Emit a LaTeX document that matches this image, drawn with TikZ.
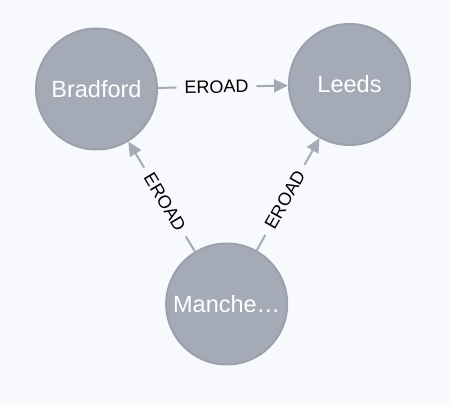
\documentclass[tikz,border=0pt]{standalone}
\usepackage{fontspec}
\setmainfont{Liberation Sans}
\usepackage{xcolor}
\usepackage{tikz}
\usetikzlibrary{arrows.meta}
\definecolor{nodegray}{HTML}{A5ABB6}
\definecolor{rimgray}{HTML}{9AA1AC}
\definecolor{canvas}{HTML}{F8F9FC}

\begin{document}
\begin{tikzpicture}[
  x=1pt,y=1pt,
  city/.style={circle,fill=nodegray,draw=rimgray,line width=2pt,minimum size=121pt,inner sep=0pt,
    text=white,font=\fontsize{23.5}{28}\selectfont},
  road/.style={draw=nodegray,line width=2pt,-{Triangle[length=14pt,width=13pt]}},
  rlabel/.style={sloped,fill=canvas,inner xsep=8pt,inner ysep=3pt,text=black,
    font=\fontsize{18}{22}\selectfont}
]
\fill[canvas] (0,0) rectangle (450,404);
\useasboundingbox (0,0) rectangle (450,404);
% cities
\node[city] (bradford) at (96.5,315) {Bradford};
\node[city] (leeds) at (349.5,319.5) {Leeds};
\node[city] (manchester) at (226.7,100) {Manche…};

% roads
\draw[road] (bradford) -- node[rlabel,pos=0.45]{EROAD} (leeds);
\draw[road] (manchester) -- node[rlabel,pos=0.45]{EROAD} (bradford);
\draw[road] (manchester) -- node[rlabel,pos=0.45]{EROAD} (leeds);
\end{tikzpicture}
\end{document}
